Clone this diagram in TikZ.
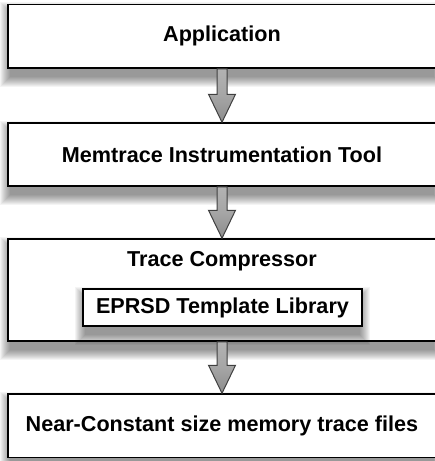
\documentclass[tikz,border=0pt]{standalone}
\usepackage{fontspec}
\setmainfont{Liberation Sans}
\usetikzlibrary{calc}
\tikzset{
  box/.style={draw=black, line width=1.5pt, fill=white, inner sep=0pt,
    font=\bfseries\fontsize{21.6}{25}\selectfont, text=black},
  title/.style={font=\bfseries\fontsize{21.6}{25}\selectfont, text=black, inner sep=0pt},
  bigarrow/.style={draw=black!75, line width=1pt, line join=miter,
    top color=black!30, bottom color=black!45, middle color=black!35},
}
\newcommand{\softshadow}[1]{%
  \foreach \r in {0,1,...,10}{
    \fill[black, opacity=0.045]
      ($(#1.north west)+(-\r+2,-8+\r)$) rectangle ($(#1.south east)+(\r-2,-9-\r)$);
  }%
}
\newcommand{\flowarrow}[2]{%
  \path (#1.south) coordinate (s) (#2.north) coordinate (t);
  \draw[bigarrow] ($(s)+(-5,0)$) -- ($(t)+(-5,28)$) -- ($(t)+(-13.5,28)$) -- (t)
     -- ($(t)+(13.5,28)$) -- ($(t)+(5,28)$) -- ($(s)+(5,0)$) -- cycle;
}
\begin{document}
\begin{tikzpicture}[x=1pt,y=1pt]
\useasboundingbox (0,0) rectangle (435,-461);
\fill[white] (0,0) rectangle (435,-461);
\path (222,-36.25) node[minimum width=428pt, minimum height=63.5pt, inner sep=0pt] (app) {};
\path (222,-154.5) node[minimum width=428pt, minimum height=63pt, inner sep=0pt] (mem) {};
\path (222,-290) node[minimum width=428pt, minimum height=102pt, inner sep=0pt] (comp) {};
\path (222,-425.75) node[minimum width=428pt, minimum height=63.5pt, inner sep=0pt] (files) {};
\softshadow{app}
\softshadow{mem}
\softshadow{comp}
\softshadow{files}
\node[box, minimum width=428pt, minimum height=63.5pt] (app) at (222,-36.25) {Application};
\node[box, minimum width=428pt, minimum height=63pt] (mem) at (222,-154.5) {Memtrace Instrumentation Tool};
\node[box, minimum width=428pt, minimum height=102pt] (comp) at (222,-290) {};
\node[box, minimum width=428pt, minimum height=63.5pt] (files) at (222,-425.75) {Near-Constant size memory trace files};
\node[title] (comptitle) at (222,-261) {Trace Compressor};
\path (222.5,-307.5) node[minimum width=279pt, minimum height=37pt, inner sep=0pt] (lib) {};
\softshadow{lib}
\node[box, line width=1.3pt, minimum width=279pt, minimum height=37pt] (lib) at (222.5,-307.5) {EPRSD Template Library};
\flowarrow{app}{mem}
\flowarrow{mem}{comp}
\flowarrow{comp}{files}
\end{tikzpicture}
\end{document}
